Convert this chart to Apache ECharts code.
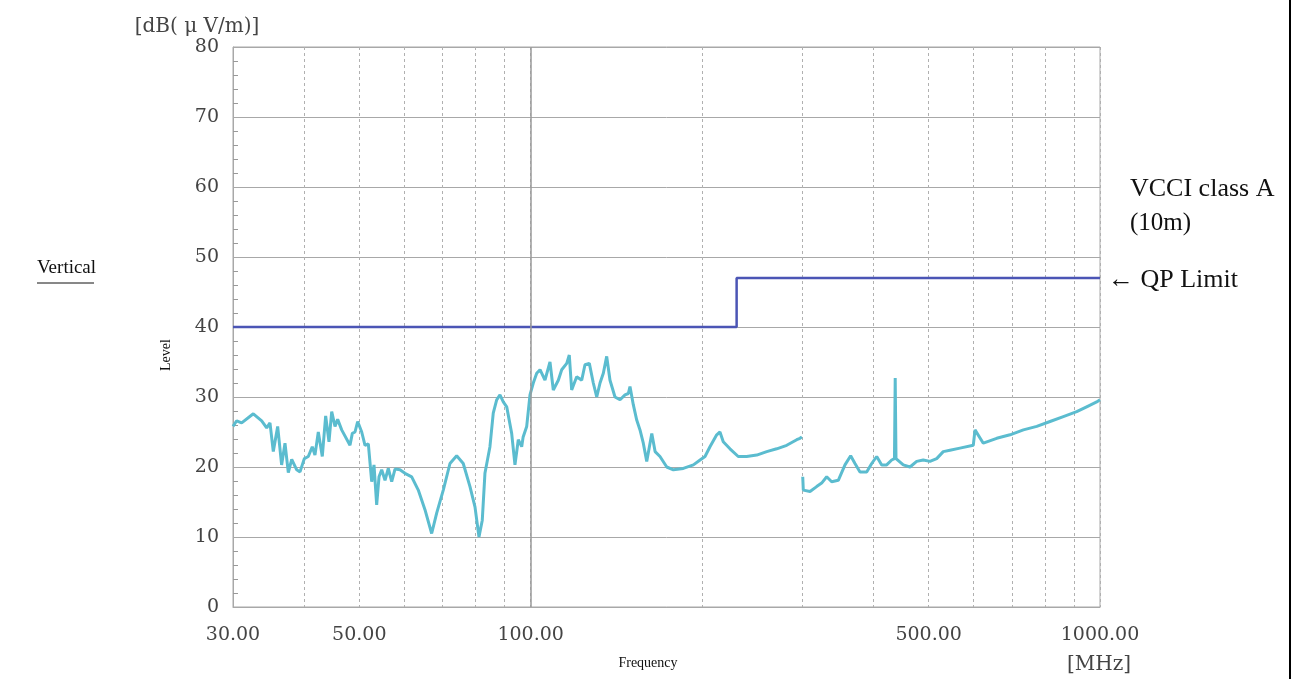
<!DOCTYPE html>
<html>
<head>
<meta charset="utf-8">
<title>Radiated emission - Vertical</title>
<script src="https://cdn.jsdelivr.net/npm/echarts@6.0.0/dist/echarts.min.js"></script>
<style>
  html, body { margin: 0; padding: 0; background: #fff; }
  #chart { width: 1297px; height: 679px; }
</style>
</head>
<body>
<div id="chart"></div>
<script>
// measured trace (MHz / dB(uV/m)), null = sweep break at 300 MHz
const freqMHz = [
  30.0, 30.45, 31.07, 32.57, 33.69, 34.38, 34.84, 35.31, 35.94, 36.52,
  37.02, 37.52, 38.04, 38.82, 39.34, 40.03, 40.68, 41.34, 41.79, 42.36,
  43.05, 43.64, 44.23, 44.72, 45.32, 45.81, 46.56, 48.15, 48.61, 49.14,
  49.67, 50.49, 51.17, 51.86, 52.57, 53.06, 53.64, 54.15, 54.74, 55.48,
  56.22, 57.0, 57.77, 58.94, 60.14, 61.8, 63.47, 65.21, 67.0, 68.37,
  70.22, 72.15, 74.13, 76.13, 78.23, 79.83, 81.13, 82.22, 83.11, 84.81,
  85.95, 87.15, 88.32, 89.51, 90.76, 92.6, 93.84, 95.11, 96.43, 97.0,
  98.4, 99.72, 101.06, 102.47, 103.85, 105.95, 108.12, 109.58, 111.82, 113.37,
  115.7, 116.9, 118.03, 120.45, 122.91, 124.56, 126.77, 128.82, 130.62, 132.37,
  134.15, 135.99, 137.82, 140.64, 143.52, 146.46, 148.43, 149.43, 151.44, 153.55,
  155.6, 157.7, 159.9, 163.2, 165.4, 168.7, 173.4, 178.1, 185.4, 193.1,
  198.4, 202.4, 206.5, 212.2, 215.0, 217.9, 223.9, 231.5, 239.5, 249.5,
  259.8, 270.5, 281.7, 293.3, 297.2, 299.5, 300.0,
  300.5, 301.2, 309.5, 317.9, 324.4, 331.1, 337.8, 347.0, 356.5, 364.8,
  371.2, 378.8, 389.2, 397.2, 405.3, 413.6, 422.0, 430.6, 435.5, 436.8,
  438.2, 439.4, 451.3, 463.7, 476.4, 489.3, 502.7, 516.6, 530.5, 545.0,
  567.5, 599.0, 603.2, 623.7, 658.5, 695.0, 733.5, 774.3, 817.0, 862.2,
  910.1, 947.5, 986.7, 1000.0
];
const levelDb = [
  25.8, 26.6, 26.3, 27.6, 26.6, 25.6, 26.3, 22.2, 25.8, 20.3,
  23.4, 19.2, 21.1, 19.6, 19.3, 21.2, 21.5, 22.9, 21.7, 25.0,
  21.5, 27.3, 23.6, 27.9, 25.8, 26.8, 25.3, 23.1, 24.8, 25.0,
  26.5, 25.0, 23.1, 23.3, 17.9, 20.3, 14.6, 18.6, 19.6, 18.1,
  19.8, 17.9, 19.7, 19.6, 19.1, 18.6, 16.7, 13.9, 10.5, 13.4,
  16.7, 20.5, 21.6, 20.5, 17.2, 14.3, 10.0, 12.4, 19.1, 22.9,
  27.7, 29.6, 30.3, 29.3, 28.6, 24.8, 20.3, 23.9, 22.9, 24.3,
  25.8, 30.3, 32.0, 33.4, 33.9, 32.4, 35.0, 31.0, 32.4, 33.9,
  34.8, 36.0, 31.0, 32.9, 32.4, 34.6, 34.8, 32.0, 30.0, 32.0,
  33.4, 35.8, 32.4, 30.0, 29.6, 30.3, 30.5, 31.5, 28.9, 26.7,
  25.3, 23.4, 20.8, 24.8, 22.2, 21.5, 20.0, 19.6, 19.8, 20.3,
  21.0, 21.5, 22.9, 24.6, 25.0, 23.6, 22.6, 21.5, 21.5, 21.7,
  22.2, 22.6, 23.1, 23.9, 24.1, 24.3, null,
  18.6, 16.7, 16.5, 17.2, 17.7, 18.6, 17.9, 18.1, 20.3, 21.6,
  20.5, 19.3, 19.3, 20.5, 21.5, 20.3, 20.3, 21.0, 21.2, 32.7,
  21.2, 21.0, 20.3, 20.0, 20.8, 21.0, 20.8, 21.2, 22.2, 22.4,
  22.7, 23.1, 25.3, 23.4, 24.1, 24.6, 25.3, 25.8, 26.5, 27.2,
  27.9, 28.6, 29.3, 29.6
];

// VCCI class A (10 m) quasi-peak limit
const limitFreq = [30, 230, 230, 1000];
const limitLevel = [40, 40, 47, 47];

// axis ticks
const gridFreqs = [30, 40, 50, 60, 70, 80, 90, 100, 200, 300, 400, 500, 600, 700, 800, 900, 1000];
const labelFreqs = [30, 50, 100, 500, 1000];

const AXFONT = '"DejaVu Serif", serif';
const FONT = '"Liberation Serif", "DejaVu Serif", serif';
const lg = Math.log10;

const traceData = freqMHz.map((f, i) => [lg(f), levelDb[i] == null ? '-' : levelDb[i]]);
const limitData = limitFreq.map((f, i) => [lg(f), limitLevel[i]]);

const chart = echarts.init(document.getElementById('chart'));

chart.setOption({
  backgroundColor: '#fff',
  animation: false,
  grid: { left: 233, right: 197, top: 47, bottom: 72, show: true, borderColor: '#a8a8a8', borderWidth: 1 },
  xAxis: {
    type: 'value',
    min: lg(30), max: 3,
    axisLine: { show: true, lineStyle: { color: '#a8a8a8', width: 1 } },
    axisTick: { show: false, customValues: gridFreqs.map(lg) },
    splitLine: { show: true, lineStyle: { color: '#b0b0b0', type: [3, 3], width: 1 } },
    axisLabel: {
      customValues: labelFreqs.map(lg),
      formatter: v => Math.pow(10, v).toFixed(2),
      color: '#444', fontFamily: AXFONT, fontSize: 19, margin: 19,
      showMinLabel: true, showMaxLabel: true
    }
  },
  yAxis: {
    type: 'value',
    min: 0, max: 80, interval: 10,
    axisLine: { show: true, lineStyle: { color: '#a8a8a8', width: 1 } },
    axisTick: { show: false, inside: true },
    minorTick: { show: true, splitNumber: 5, length: 5, lineStyle: { color: '#999' } },
    splitLine: { show: true, lineStyle: { color: '#a8a8a8', width: 1 } },
    axisLabel: { color: '#444', fontFamily: AXFONT, fontSize: 19, margin: 14, padding: [4, 0, 0, 0] }
  },
  series: [
    {
      name: 'Level', type: 'line', data: traceData, connectNulls: false,
      showSymbol: false, symbol: 'none', silent: true,
      lineStyle: { color: '#5bbccf', width: 3 },
      markLine: {
        silent: true, symbol: 'none', label: { show: false },
        lineStyle: { color: '#9a9a9a', type: 'solid', width: 1.5 },
        data: [{ xAxis: 2 }]
      },
      z: 3
    },
    {
      name: 'QP Limit', type: 'line', data: limitData,
      showSymbol: false, symbol: 'none', silent: true,
      lineStyle: { color: '#4b55b5', width: 2.5 },
      z: 4
    }
  ],
  graphic: [
    { type: 'text', x: 197, y: 27, style: { text: '[dB( μ V/m)]', font: '20px ' + AXFONT, fill: '#444', align: 'center', verticalAlign: 'middle' } },
    { type: 'text', x: 166, y: 355, rotation: Math.PI / 2, style: { text: 'Level', font: '14px ' + FONT, fill: '#111', align: 'center', verticalAlign: 'middle' } },
    { type: 'text', left: 37, top: 259, style: { text: 'Vertical', font: '19px ' + FONT, fill: '#111' } },
    { type: 'line', shape: { x1: 37, y1: 283, x2: 94, y2: 283 }, style: { stroke: '#111', lineWidth: 1 } },
    { type: 'text', left: 1130, top: 176, style: { text: 'VCCI class A', font: '26px ' + FONT, fill: '#111' } },
    { type: 'text', left: 1130, top: 211, style: { text: '(10m)', font: '25px ' + FONT, fill: '#111' } },
    { type: 'text', left: 1108, top: 267, style: { text: '← QP Limit', font: '26px ' + FONT, fill: '#111' } },
    { type: 'text', x: 648, y: 663, style: { text: 'Frequency', font: '14px ' + FONT, fill: '#111', align: 'center', verticalAlign: 'middle' } },
    { type: 'text', x: 1099, y: 665, style: { text: '[MHz]', font: '20px ' + AXFONT, fill: '#444', align: 'center', verticalAlign: 'middle' } },
    { type: 'line', shape: { x1: 1290, y1: 0, x2: 1290, y2: 679 }, style: { stroke: '#000', lineWidth: 2 } }
  ]
});

window.addEventListener('resize', () => chart.resize());
</script>
</body>
</html>
